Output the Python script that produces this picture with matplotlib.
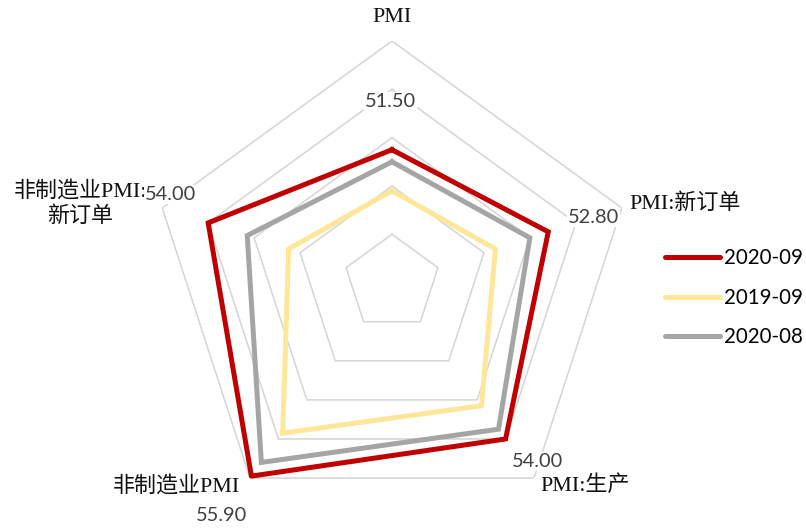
import numpy as np
import matplotlib
matplotlib.use("Agg")
import matplotlib.pyplot as plt
from matplotlib.lines import Line2D

# Indicators, clockwise from the top
categories = ["PMI", "PMI:新订单", "PMI:生产", "非制造业PMI", "非制造业PMI:\n新订单"]

# Series values
series_names = ["2020-09", "2019-09", "2020-08"]
values_2020_09 = [51.5, 52.8, 54.0, 55.9, 54.0]
values_2019_09 = [49.8, 50.5, 52.3, 53.7, 50.5]
values_2020_08 = [51.0, 52.0, 53.5, 55.2, 52.3]

# Radial scale
r_min, r_max = 46, 56
ring_values = [48, 50, 52, 54, 56]

colors = ["#C00000", "#FFE699", "#A5A5A5"]
all_values = [values_2020_09, values_2019_09, values_2020_08]

DPI = 72
W, H = 806, 529
fig = plt.figure(figsize=(W / DPI, H / DPI), dpi=DPI)

cx, cy, R = 392, 282.6, 241.6
ax = fig.add_axes([(cx - R) / W, (H - cy - R) / H, 2 * R / W, 2 * R / H],
                  projection="polar")
ax.set_theta_zero_location("N")
ax.set_theta_direction(-1)
ax.set_ylim(r_min, r_max)
ax.grid(False)
ax.set_xticks([])
ax.set_yticks([])
ax.spines["polar"].set_visible(False)
ax.patch.set_alpha(0)

n = len(categories)
theta = np.arange(n) * 2 * np.pi / n
theta_closed = np.append(theta, theta[0])

# Pentagon grid
for rv in ring_values:
    ax.plot(theta_closed, [rv] * (n + 1), color="#D6D6D6", lw=1.6,
            solid_joinstyle="miter", zorder=1)

# Series polygons
for vals, col, name in zip(all_values, colors, series_names):
    ax.plot(theta_closed, list(vals) + [vals[0]], color=col, lw=5,
            solid_joinstyle="miter", zorder=3, label=name)

# Value labels for the latest month
label_offsets = [(-1.5, 48.6), (45, 14), (32, -23), (-29.5, -39), (-38, 28)]
for t, v, off in zip(theta, values_2020_09, label_offsets):
    ax.annotate(f"{v:.2f}", xy=(t, v), xytext=off, textcoords="offset points",
                ha="center", va="center", fontsize=20, color="#404040",
                family=["Lato", "DejaVu Sans"], zorder=5,
                bbox=dict(boxstyle="square,pad=0.05", fc="white", ec="none"),
                annotation_clip=False)

# Category labels around the outer ring
cat_font = ["Liberation Serif", "Noto Sans CJK SC"]
cat_place = [((0, 23.5), "center"), ((8, 4), "left"), ((6, -7), "left"),
             ((-10, -8), "right"), ((-82, 4), "center")]
for t, name, (off, ha) in zip(theta, categories, cat_place):
    ax.annotate(name, xy=(t, r_max), xytext=off, textcoords="offset points",
                ha=ha, va="center", multialignment="center", fontsize=22,
                color="#111111", family=cat_font, linespacing=1.3,
                zorder=4, annotation_clip=False)

# Legend
handles = [Line2D([0], [0], color=c, lw=5, solid_capstyle="round") for c in colors]
fig.legend(handles, series_names, loc="center left",
           bbox_to_anchor=(665 / W, (H - 297.7) / H),
           frameon=False, borderpad=0, borderaxespad=0,
           handlelength=2.7, handletextpad=0.2, labelspacing=0.95,
           prop={"family": ["Lato", "DejaVu Sans"], "size": 20.5})

fig.savefig("out.png", dpi=DPI, facecolor="white")
